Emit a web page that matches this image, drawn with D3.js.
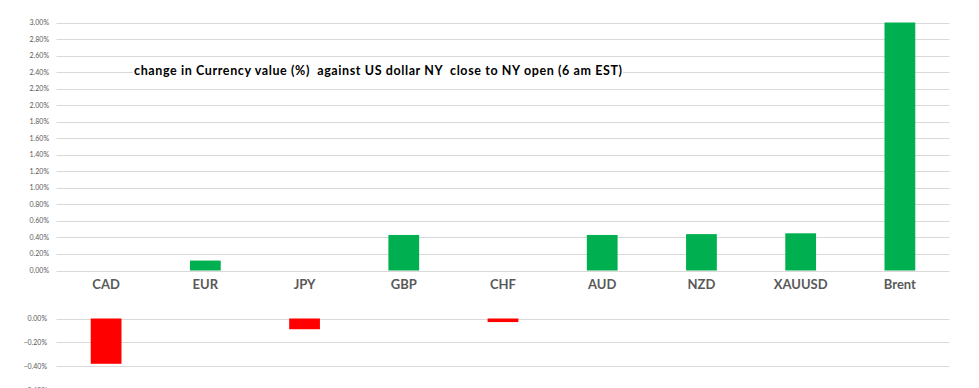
<!DOCTYPE html>
<html>
<head>
<meta charset="utf-8">
<script src="https://cdn.jsdelivr.net/npm/d3@7"></script>
<style>
  body { margin: 0; background: #fff; }
  svg { display: block; }
</style>
</head>
<body>
<figure id="fxChange" style="margin:0"></figure>
<script>
// categories and % change vs USD (NY close to NY open)
var currencies = ["CAD", "EUR", "JPY", "GBP", "CHF", "AUD", "NZD", "XAUUSD", "Brent"];
var changes = [-0.38, 0.12, -0.09, 0.43, -0.03, 0.43, 0.44, 0.45, 3.0];
var upTicks = [0, 0.2, 0.4, 0.6, 0.8, 1.0, 1.2, 1.4, 1.6, 1.8, 2.0, 2.2, 2.4, 2.6, 2.8, 3.0];
var downTicks = [0, -0.2, -0.4, -0.6];
var title = "change in Currency value (%)  against US dollar NY  close to NY open (6 am EST)";

var width = 979, height = 388;

var svg = d3.select("figure#fxChange")
  .append("svg")
  .attr("width", width)
  .attr("height", height);

// shared x scale - excel style gap on both sides
var xScale = d3.scaleBand()
  .domain(currencies)
  .range([56.5, 949.5])
  .paddingInner(0.69)
  .paddingOuter(0.345);

// top chart: gains
var yUp = d3.scaleLinear().domain([0, 3]).range([270.5, 22.5]);
// bottom chart: losses
var yDown = d3.scaleLinear().domain([-0.6, 0]).range([390, 318.5]);

var fmt = function(d) { return d3.format(".2f")(d) + "%"; };

function drawGrid(y, ticks, labelX) {
  var g = svg.append("g");
  g.selectAll("line")
    .data(ticks)
    .enter()
    .append("line")
    .attr("x1", 56.5).attr("x2", 949.5)
    .attr("y1", function(d) { return Math.round(y(d)) + 0.5; })
    .attr("y2", function(d) { return Math.round(y(d)) + 0.5; })
    .attr("stroke", "#d9d9d9")
    .attr("stroke-width", 1);
  g.selectAll("text")
    .data(ticks)
    .enter()
    .append("text")
    .attr("x", labelX)
    .attr("y", function(d) { return y(d) + 2.5; })
    .attr("text-anchor", "end")
    .attr("font-family", "Lato, sans-serif")
    .attr("font-size", "7px")
    .attr("fill", "#595959")
    .text(fmt);
}

drawGrid(yUp, upTicks, 49);
drawGrid(yDown, downTicks, 47);

var data = currencies.map(function(c, i) { return {cat: c, value: changes[i]}; });

// green bars above
svg.append("g")
  .selectAll("rect")
  .data(data.filter(function(d) { return d.value > 0; }))
  .enter()
  .append("rect")
  .attr("x", function(d) { return xScale(d.cat); })
  .attr("width", xScale.bandwidth())
  .attr("y", function(d) { return yUp(Math.min(d.value, 3)); })
  .attr("height", function(d) { return yUp(0) - yUp(Math.min(d.value, 3)); })
  .attr("fill", "#00b050");

// red bars below
svg.append("g")
  .selectAll("rect")
  .data(data.filter(function(d) { return d.value < 0; }))
  .enter()
  .append("rect")
  .attr("x", function(d) { return xScale(d.cat); })
  .attr("width", xScale.bandwidth())
  .attr("y", yDown(0))
  .attr("height", function(d) { return yDown(d.value) - yDown(0); })
  .attr("fill", "#ff0000");

// category labels
svg.append("g")
  .selectAll("text")
  .data(currencies)
  .enter()
  .append("text")
  .attr("x", function(d) { return xScale(d) + xScale.bandwidth() / 2; })
  .attr("y", 289)
  .attr("text-anchor", "middle")
  .attr("font-family", "Lato, sans-serif")
  .attr("font-weight", "bold")
  .attr("font-size", "13px")
  .attr("fill", "#595959")
  .text(function(d) { return d; });

// title box on top of the gridlines
svg.append("rect")
  .attr("x", 133).attr("y", 63)
  .attr("width", 490).attr("height", 16)
  .attr("fill", "#fff");
svg.append("text")
  .attr("x", 134)
  .attr("y", 75)
  .attr("font-family", "Lato, sans-serif")
  .attr("font-weight", "bold")
  .attr("font-size", "12.5px")
  .attr("fill", "#000")
  .attr("textLength", 488)
  .attr("xml:space", "preserve")
  .style("white-space", "pre")
  .text(title);
</script>
</body>
</html>
